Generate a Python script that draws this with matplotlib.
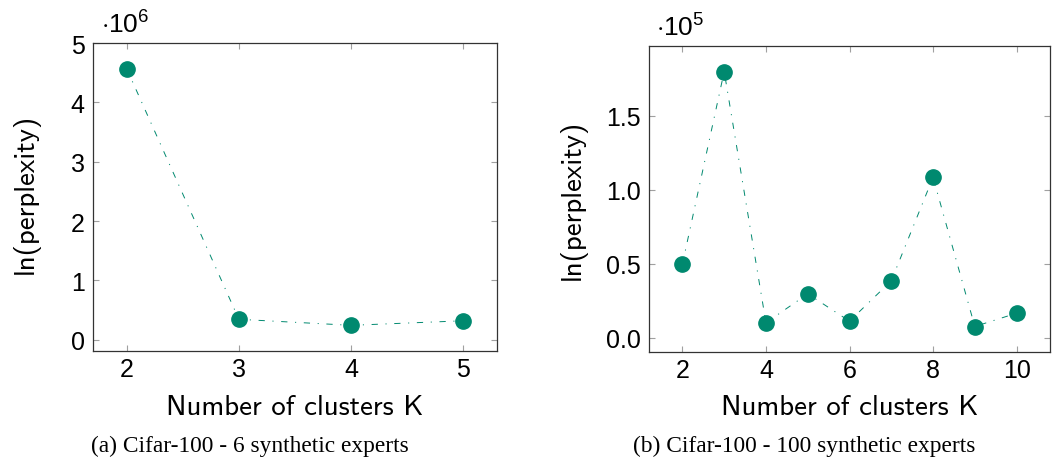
import matplotlib
matplotlib.use("Agg")
import matplotlib.pyplot as plt
from matplotlib.ticker import FixedLocator, FuncFormatter

# ---- data ----
k_a = [2, 3, 4, 5]
ppl_a = [4.57, 0.345, 0.243, 0.32]          # x 10^6
k_b = [2, 3, 4, 5, 6, 7, 8, 9, 10]
ppl_b = [0.497, 1.80, 0.100, 0.296, 0.111, 0.384, 1.084, 0.075, 0.165]  # x 10^5

xticks_a = [2, 3, 4, 5]
yticks_a = [0, 1, 2, 3, 4, 5]
xticks_b = [2, 4, 6, 8, 10]
yticks_b = [0.0, 0.5, 1.0, 1.5]

xlabel = "Number of clusters K"
ylabel = "ln(perplexity)"
caption_a = "(a) Cifar-100 - 6 synthetic experts"
caption_b = "(b) Cifar-100 - 100 synthetic experts"
mult_a = "6"
mult_b = "5"

COLOR = "#00896f"
plt.rcParams["lines.scale_dashes"] = False
plt.rcParams["mathtext.fontset"] = "custom"
plt.rcParams["mathtext.rm"] = "Liberation Sans"
plt.rcParams["mathtext.it"] = "Liberation Sans"

W, H = 1061, 460
fig = plt.figure(figsize=(W / 100, H / 100), dpi=100)

def box(l, t, r, b):
    return [l / W, 1 - b / H, (r - l) / W, (b - t) / H]

ax_a = fig.add_axes(box(93, 44, 497, 352))
ax_b = fig.add_axes(box(649, 47, 1050, 353))

def style(ax, xs, ys, xt, yt, fmt):
    rng = max(ys) - min(ys)
    ax.plot(xs, ys, color=COLOR, lw=0.7, dashes=(4.5, 5.5, 0.8, 5.5),
            marker="o", markersize=11, markerfacecolor=COLOR,
            markeredgecolor=COLOR, zorder=3)
    xr = max(xs) - min(xs)
    ax.set_xlim(min(xs) - 0.1 * xr, max(xs) + 0.1 * xr)
    ax.set_ylim(min(ys) - 0.1 * rng, max(ys) + 0.1 * rng)
    ax.xaxis.set_major_locator(FixedLocator(xt))
    ax.yaxis.set_major_locator(FixedLocator(yt))
    ax.yaxis.set_major_formatter(FuncFormatter(fmt))
    ax.tick_params(direction="in", length=4, width=0.8, color="#a0a0a0",
                   top=True, right=True, labelsize=18)
    ax.tick_params(axis="x", pad=4)
    ax.tick_params(axis="y", pad=6)
    for lab in ax.get_xticklabels() + ax.get_yticklabels():
        lab.set_fontfamily("Liberation Sans")
    for s in ax.spines.values():
        s.set_color("#333333")
        s.set_linewidth(0.9)

style(ax_a, k_a, ppl_a, xticks_a, yticks_a, lambda v, p: f"{v:.0f}")
style(ax_b, k_b, ppl_b, xticks_b, yticks_b, lambda v, p: f"{v:.1f}")

def px(x, y):
    return x / W, 1 - y / H

# axis labels
fig.text(*px(295, 415), xlabel, fontfamily="cmss10", fontsize=20.8,
         ha="center", va="baseline")
fig.text(*px(850, 415), xlabel, fontfamily="cmss10", fontsize=20.8,
         ha="center", va="baseline")
fig.text(*px(26, 194), ylabel, fontfamily="cmss10", fontsize=20.8,
         ha="center", va="center", rotation=90)
fig.text(*px(573, 200), ylabel, fontfamily="cmss10", fontsize=20.8,
         ha="center", va="center", rotation=90)

# multipliers
fig.text(*px(101, 34), r"$\cdot 10^{%s}$" % mult_a, fontsize=19,
         ha="left", va="baseline")
fig.text(*px(656, 37), r"$\cdot 10^{%s}$" % mult_b, fontsize=19,
         ha="left", va="baseline")

# captions
fig.text(*px(250, 452), caption_a, fontfamily="Liberation Serif",
         fontsize=16.8, ha="center", va="baseline")
fig.text(*px(804, 452), caption_b, fontfamily="Liberation Serif",
         fontsize=16.8, ha="center", va="baseline")

fig.savefig("out.png", dpi=100)
